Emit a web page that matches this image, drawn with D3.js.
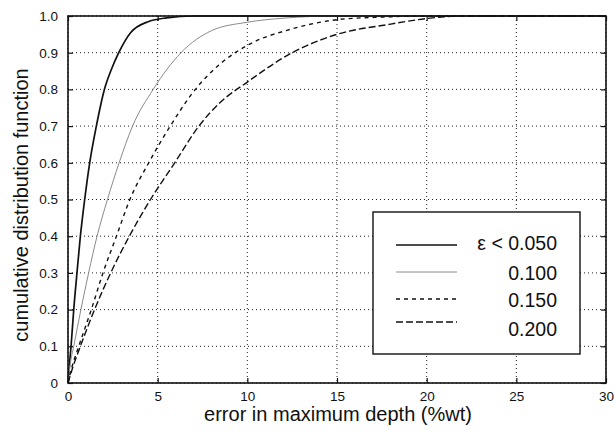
<!DOCTYPE html>
<html><head><meta charset="utf-8">
<script src="https://cdn.jsdelivr.net/npm/d3@7"></script>
<style>body{margin:0;background:#fff}svg text{font-family:"Liberation Sans",Arial,sans-serif;fill:#111}</style>
</head><body><svg id="c" width="615" height="433"></svg>
<script>
const xTicks=[0,5,10,15,20,25,30];
const yTicks=[0,0.1,0.2,0.3,0.4,0.5,0.6,0.7,0.8,0.9,1.0];
const seriesNames=["ε < 0.050","0.100","0.150","0.200"];
const s1x=[0,0.08,0.17,0.32,0.5,0.69,0.93,1.21,1.58,2.03,2.4,2.83,3.5,4.5,5.5,7,30];
const s1y=[0,0.05,0.1,0.2,0.3,0.4,0.5,0.6,0.7,0.8,0.852,0.9,0.955,0.985,0.995,1,1];
const s2x=[0,0.12,0.32,0.72,1.15,1.62,2.2,2.85,3.6,4.75,6.3,8,10,12,15,30];
const s2y=[0,0.05,0.1,0.2,0.3,0.4,0.5,0.6,0.7,0.8,0.9,0.96,0.983,0.994,1,1];
const s3x=[0,0.2,0.6,1.3,1.95,2.7,3.45,4.5,5.7,7.1,8.5,10,12.5,15,17.5,20,30];
const s3y=[0,0.04,0.1,0.2,0.3,0.4,0.5,0.6,0.7,0.8,0.87,0.92,0.965,0.99,0.997,1,1];
const s4x=[0,0.25,0.69,1.48,2.38,3.42,4.6,5.95,7.3,8.5,10,12.5,15,18,20,22,30];
const s4y=[0,0.04,0.1,0.2,0.3,0.4,0.5,0.6,0.7,0.765,0.82,0.9,0.95,0.978,0.993,1,1];

const svg=d3.select("#c");
const L=68,R=606,T=16,B=383;
const x=d3.scaleLinear().domain([0,30]).range([L,R]);
const y=d3.scaleLinear().domain([0,1]).range([B,T]);

// grid
const g=svg.append("g");
g.selectAll(".gx").data(xTicks).join("line").attr("x1",d=>x(d)).attr("x2",d=>x(d)).attr("y1",T).attr("y2",B)
 .attr("stroke","#222").attr("stroke-width",1).attr("stroke-dasharray","1,3");
g.selectAll(".gy").data(yTicks).join("line").attr("y1",d=>y(d)).attr("y2",d=>y(d)).attr("x1",L).attr("x2",R)
 .attr("stroke","#222").attr("stroke-width",1).attr("stroke-dasharray","1,3");

// axes
const fnt="'Liberation Sans',Arial,sans-serif";
const xa=svg.append("g").attr("transform",`translate(0,${B})`).call(d3.axisBottom(x).tickValues(xTicks).tickSize(-5).tickPadding(8).tickFormat(d3.format("d")));
const ya=svg.append("g").attr("transform",`translate(${L},0)`).call(d3.axisLeft(y).tickValues(yTicks).tickSize(-5).tickPadding(10).tickFormat(d=>d===0?"0":d3.format(".1f")(d)));
const xt=svg.append("g").attr("transform",`translate(0,${T})`).call(d3.axisTop(x).tickValues(xTicks).tickSize(-5).tickFormat(""));
const yr=svg.append("g").attr("transform",`translate(${R},0)`).call(d3.axisRight(y).tickValues(yTicks).tickSize(-5).tickFormat(""));
[xa,ya,xt,yr].forEach(a=>{a.select(".domain").remove();a.selectAll("line").attr("stroke","#111").attr("stroke-width",1.2);a.selectAll("text").attr("font-size",13.5).attr("fill","#111").style("font-family",fnt);});

const series=[
 {xs:s1x,ys:s1y,stroke:"#111",w:1.7,dash:null},
 {xs:s2x,ys:s2y,stroke:"#8a8a8a",w:1,dash:null},
 {xs:s3x,ys:s3y,stroke:"#111",w:1.4,dash:"4,4"},
 {xs:s4x,ys:s4y,stroke:"#111",w:1.4,dash:"7,3"}
];
const line=d3.line().x(d=>x(d[0])).y(d=>y(d[1])).curve(d3.curveMonotoneX);
series.forEach(s=>{
 svg.append("path").datum(s.xs.map((v,i)=>[v,s.ys[i]])).attr("d",line).attr("fill","none")
  .attr("stroke",s.stroke).attr("stroke-width",s.w).attr("stroke-dasharray",s.dash);
});

// frame
svg.append("rect").attr("x",L).attr("y",T).attr("width",R-L).attr("height",B-T).attr("fill","none").attr("stroke","#111").attr("stroke-width",1.6);

// legend
const lg=svg.append("g");
lg.append("rect").attr("x",373).attr("y",212).attr("width",207).attr("height",142).attr("fill","#fff").attr("stroke","#111").attr("stroke-width",1.4);
const lineY=[245,272,299,322];
const textY=[243,273,300,329];
seriesNames.forEach((n,i)=>{
 const s=series[i];
 lg.append("line").attr("x1",396).attr("x2",457).attr("y1",lineY[i]).attr("y2",lineY[i]).attr("stroke",s.stroke).attr("stroke-width",s.w).attr("stroke-dasharray",s.dash);
 lg.append("text").attr("x",557).attr("y",textY[i]).attr("dy","0.36em").attr("text-anchor","end").attr("font-size",19.5).text(n);
});

svg.append("text").attr("x",338).attr("y",421).attr("text-anchor","middle").attr("font-size",20).text("error in maximum depth (%wt)");
svg.append("text").attr("transform","translate(28,205) rotate(-90)").attr("text-anchor","middle").attr("font-size",20).text("cumulative distribution function");
</script></body></html>
